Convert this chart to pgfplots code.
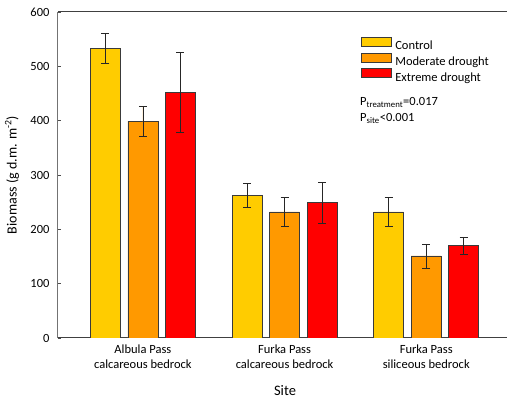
\documentclass[border=0pt]{standalone}
\usepackage{pgfplots}
\pgfplotsset{compat=1.18}
\usepackage{fontspec}
\setmainfont{Carlito}
\definecolor{cyel}{HTML}{FFCC00}
\definecolor{cora}{HTML}{FF9900}
\definecolor{cred}{HTML}{FF0000}
\definecolor{edge}{HTML}{3A3A3A}
\pgfplotsset{
  errstyle/.style={
    error bars/y dir=both, error bars/y explicit,
    error bars/error bar style={draw=black!85, line width=0.6pt},
    error bars/error mark options={rotate=90, mark size=4pt, draw=black!85, line width=0.6pt},
  }
}
\begin{document}
\begin{tikzpicture}
\begin{axis}[
  scale only axis,
  width=449pt, height=326pt,
  xmin=-0.599, xmax=2.57,
  ymin=0, ymax=600,
  ybar=7.5pt, bar width=30pt,
  axis x line=box, axis y line=left,
  axis line style={draw=black!75, line width=1pt},
  x axis line style={-},
  y axis line style={-, draw=black!55},
  xtick=data,
  xticklabels={{Albula Pass\\calcareous bedrock},{Furka Pass\\calcareous bedrock},{Furka Pass\\siliceous bedrock}},
  xticklabel style={align=center, font=\fontsize{12.5}{15}\selectfont},
  x tick label style={yshift=-3pt},
  major x tick style={draw=none},
  ytick={0,100,...,600},
  y tick style={draw=black!70, line width=0.6pt},
  major tick length=3pt,
  tick align=inside,
  yticklabel style={font=\fontsize{12.5}{14}\selectfont, xshift=-5pt},
  /pgf/number format/assume math mode=true,
  xlabel={Site},
  xlabel style={font=\fontsize{14.5}{16}\selectfont, at={(axis description cs:0.5056,-0.1626)}, anchor=center},
  ylabel={Biomass (g d.m. m\textsuperscript{-2})},
  ylabel style={font=\fontsize{14}{16}\selectfont, at={(axis description cs:-0.1024,0.5)}, anchor=center},
  legend style={at={(0.6749,0.925)}, anchor=north west, draw=none, fill=none,
    inner sep=0pt, nodes={inner sep=0pt, inner xsep=3.5pt},
    font=\fontsize{12.5}{15}\selectfont, row sep=1.5pt,
    legend cell align=left},
  legend image code/.code={\draw[#1, draw=edge] (-6.5pt,0pt) rectangle (23.5pt,9pt);},
]
\addplot[fill=cyel, draw=edge, line width=0.6pt, errstyle] coordinates {
  (0,533) +- (0,27)
  (1,263) +- (0,22)
  (2,232) +- (0,27)
};
\addplot[fill=cora, draw=edge, line width=0.6pt, errstyle] coordinates {
  (0,399) +- (0,27)
  (1,232) +- (0,27)
  (2,151) +- (0,22)
};
\addplot[fill=cred, draw=edge, line width=0.6pt, errstyle] coordinates {
  (0,452) +- (0,74)
  (1,249) +- (0,37)
  (2,170) +- (0,16)
};
\legend{Control, Moderate drought, Extreme drought}
\node[anchor=base west, font=\fontsize{12.5}{15}\selectfont, inner sep=0pt]
  at (rel axis cs:0.6726,0.712) {P\textsubscript{treatment}=0.017};
\node[anchor=base west, font=\fontsize{12.5}{15}\selectfont, inner sep=0pt]
  at (rel axis cs:0.6726,0.663) {P\textsubscript{site}<0.001};
\end{axis}
\pgfresetboundingbox
\path[use as bounding box] ([shift={(-58pt,-62pt)}]current axis.south west) rectangle ([shift={(0pt,12pt)}]current axis.north east);
\end{tikzpicture}
\end{document}
